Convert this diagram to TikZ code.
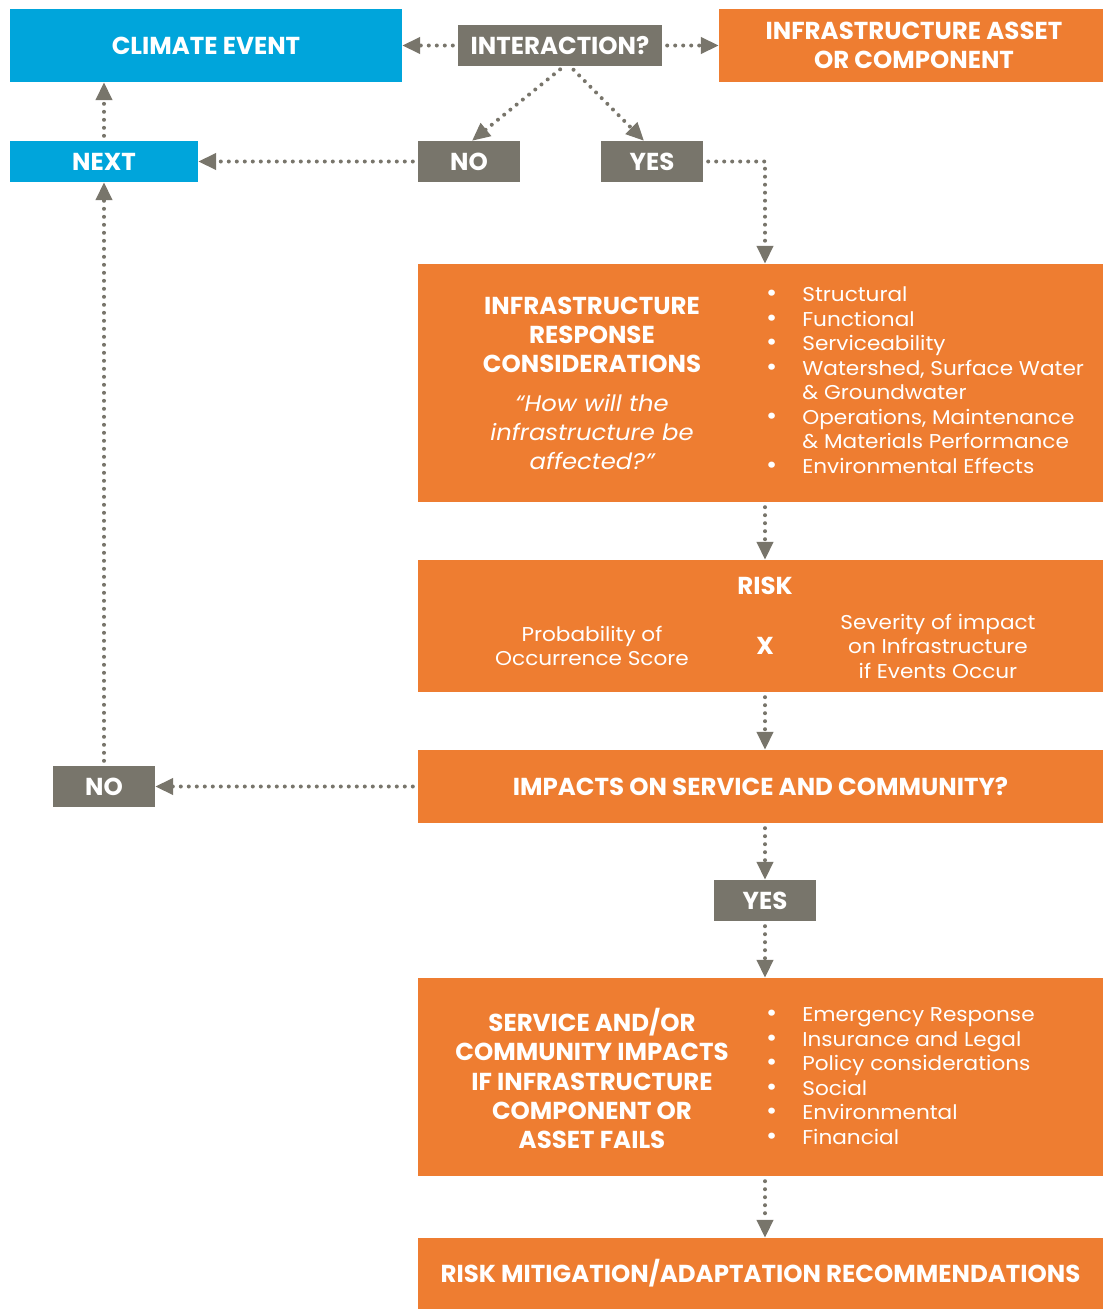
\documentclass[tikz,border=0pt]{standalone}
\usepackage{fontspec}
\setmainfont[FakeStretch=1.08]{Poppins}
\newfontfamily\headfont{Poppins}
\usetikzlibrary{arrows.meta,calc}
\definecolor{skyblue}{HTML}{00A5DB}
\definecolor{rust}{HTML}{EE7D31}
\definecolor{stone}{HTML}{78756B}
\newcommand{\dotitem}{{\fontsize{25}{24.5}\selectfont\textbullet}}
\tikzset{
  panel/.style={fill=#1, inner sep=0pt, text=white, align=center},
  head/.style={font=\headfont\bfseries\fontsize{24.5}{29.3}\selectfont},
  body/.style={font=\fontsize{20}{24.5}\selectfont, text=white, inner sep=0pt},
  flow/.style={draw=stone, line width=4pt, line cap=round,
    dash pattern=on 0pt off 8pt, shorten <=5pt,
    -{Triangle[length=18pt,width=16pt]}},
}
\begin{document}
\begin{tikzpicture}[x=1pt,y=-1pt]
\useasboundingbox (0,0) rectangle (1103,1309);
\fill[white] (0,0) rectangle (1103,1309);

% top row
\node[panel=skyblue, head, minimum width=392pt, minimum height=73pt] (climate) at (206,45.5) {CLIMATE EVENT};
\node[panel=stone, head, minimum width=204pt, minimum height=41pt] (interaction) at (560,45.5) {INTERACTION?};
\node[panel=rust, minimum width=384pt, minimum height=73pt] (asset) at (911,45.5) {};
\node[head, text=white, align=center, inner sep=0pt] (assettext) at (914,45.5) {INFRASTRUCTURE ASSET\\OR COMPONENT};

% decision row
\node[panel=skyblue, head, minimum width=188pt, minimum height=41pt] (next) at (104,161.5) {NEXT};
\node[panel=stone, head, minimum width=102pt, minimum height=41pt] (notop) at (469,161.5) {NO};
\node[panel=stone, head, minimum width=102pt, minimum height=41pt] (yestop) at (652,161.5) {YES};

% infrastructure response
\node[panel=rust, minimum width=685pt, minimum height=238pt] (resp) at (760.5,383) {};
\node[head, text=white, align=center, inner sep=0pt] (resphead) at (592,335)
  {INFRASTRUCTURE\\RESPONSE\\CONSIDERATIONS};
\node[font=\itshape\fontsize{22.5}{29.3}\selectfont, text=white, align=center, inner sep=0pt] (respquote) at (592,432)
  {``How will the\\infrastructure be\\affected?''};
\node[body, anchor=west] (resplist) at (766,382.5)
  {\begin{tabular}{@{}l@{\hspace{25pt}}l@{}}
   \dotitem & Structural\\
   \dotitem & Functional\\
   \dotitem & Serviceability\\
   \dotitem & Watershed, Surface Water\\
            & \& Groundwater\\
   \dotitem & Operations, Maintenance\\
            & \& Materials Performance\\
   \dotitem & Environmental Effects
   \end{tabular}};

% risk
\node[panel=rust, minimum width=685pt, minimum height=132pt] (risk) at (760.5,626) {};
\node[head, text=white, inner sep=0pt] (risktitle) at (765,586) {RISK};
\node[body, align=center] (prob) at (592,646) {Probability of\\Occurrence Score};
\node[head, text=white, inner sep=0pt] (times) at (765,646) {X};
\node[body, align=center] (sev) at (938,646) {Severity of impact\\on Infrastructure\\if Events Occur};

% impacts question
\node[panel=rust, head, minimum width=685pt, minimum height=73pt] (impacts) at (760.5,786.5) {IMPACTS ON SERVICE AND COMMUNITY?};
\node[panel=stone, head, minimum width=102pt, minimum height=41pt] (noleft) at (104,786.5) {NO};
\node[panel=stone, head, minimum width=102pt, minimum height=41pt] (yesmid) at (765,900.5) {YES};

% service and community impacts
\node[panel=rust, minimum width=685pt, minimum height=198pt] (service) at (760.5,1077) {};
\node[head, text=white, align=center, inner sep=0pt] (servhead) at (592,1078.5)
  {SERVICE AND/OR\\COMMUNITY IMPACTS\\IF INFRASTRUCTURE\\COMPONENT OR\\ASSET FAILS};
\node[body, anchor=west] (servlist) at (766,1078)
  {\begin{tabular}{@{}l@{\hspace{25pt}}l@{}}
   \dotitem & Emergency Response\\
   \dotitem & Insurance and Legal\\
   \dotitem & Policy considerations\\
   \dotitem & Social\\
   \dotitem & Environmental\\
   \dotitem & Financial
   \end{tabular}};

% recommendations
\node[panel=rust, head, minimum width=685pt, minimum height=71pt] (mitig) at (760.5,1273.5) {RISK MITIGATION/ADAPTATION RECOMMENDATIONS};

% connectors
\draw[flow] (interaction.west) -- (climate.east);
\draw[flow] (interaction.east) -- (asset.west);
\draw[flow] ([xshift=4pt]interaction.south) -- ([xshift=3pt]notop.north);
\draw[flow] ([xshift=10pt]interaction.south) -- ([xshift=-8pt]yestop.north);
\draw[flow] (notop.west) -- (next.east);
\draw[flow] (next.north) -- (climate.south -| next.north);
\draw[flow] (yestop.east) -| (resp.north -| yesmid.north);
\draw[flow] (resp.south -| yesmid.north) -- (risk.north -| yesmid.north);
\draw[flow] (risk.south -| yesmid.north) -- (impacts.north -| yesmid.north);
\draw[flow] (impacts.west) -- (noleft.east);
\draw[flow] (noleft.north) -- (next.south);
\draw[flow] (impacts.south -| yesmid.north) -- (yesmid.north);
\draw[flow] (yesmid.south) -- (service.north -| yesmid.south);
\draw[flow] (service.south -| yesmid.south) -- (mitig.north -| yesmid.south);
\end{tikzpicture}
\end{document}
